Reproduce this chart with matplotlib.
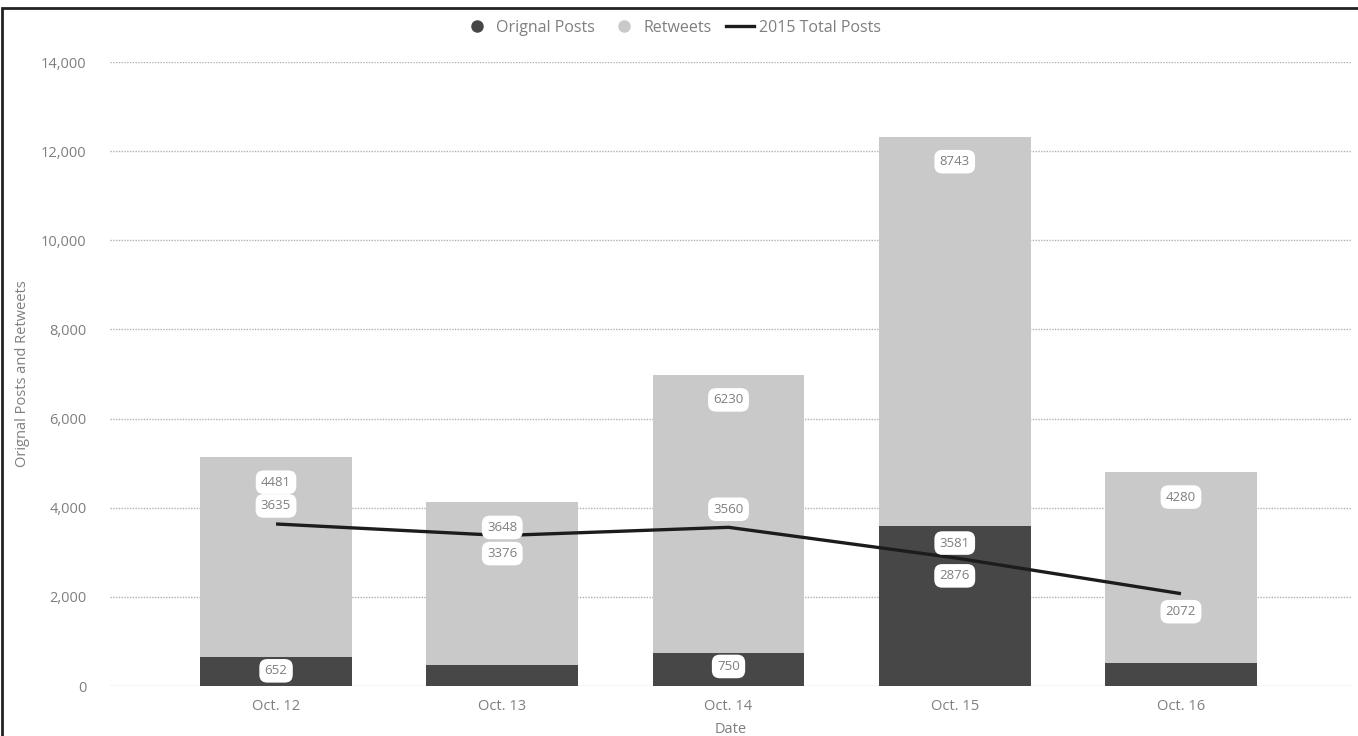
import matplotlib

matplotlib.use("Agg")
import matplotlib.pyplot as plt
from matplotlib.lines import Line2D
from matplotlib.patches import Rectangle
from matplotlib.ticker import FuncFormatter

plt.rcParams["font.family"] = ["Open Sans", "DejaVu Sans"]

# values
dates = ["Oct. 12", "Oct. 13", "Oct. 14", "Oct. 15", "Oct. 16"]
original_posts = [652, 470, 750, 3581, 520]
retweets = [4481, 3648, 6230, 8743, 4280]
total_2015 = [3635, 3376, 3560, 2876, 2072]

# which data labels are visible, and where the line labels sit
show_orig_label = [True, False, True, True, False]
line_label_side = [1, -1, 1, -1, -1]

DARK = "#474747"
LIGHT = "#c9c9c9"
TXT = "#7f7f7f"

fig = plt.figure(figsize=(13.58, 7.36), dpi=100)
ax = fig.add_axes([110 / 1358, 50 / 736, 1242 / 1358, 624 / 736])

x = list(range(len(dates)))
ax.bar(x, original_posts, width=0.67, color=DARK, zorder=2)
ax.bar(x, retweets, width=0.67, bottom=original_posts, color=LIGHT, zorder=2)
ax.plot(x, total_2015, color="#1c1c1c", lw=2.4, zorder=3, solid_capstyle="butt")

box = dict(boxstyle="round,pad=0.4,rounding_size=0.6", fc="white", ec="none")
lbl = dict(ha="center", va="center", fontsize=9.5, color=TXT, bbox=box, zorder=4)
for i in x:
    top = original_posts[i] + retweets[i]
    ax.annotate(str(retweets[i]), (i, top), xytext=(0, -18), textcoords="offset points", **lbl)
    if show_orig_label[i]:
        off = -12 if original_posts[i] > 1000 else -10
        ax.annotate(str(original_posts[i]), (i, original_posts[i]), xytext=(0, off),
                    textcoords="offset points", **lbl)
    ax.annotate(str(total_2015[i]), (i, total_2015[i]), xytext=(0, 13 * line_label_side[i]),
                textcoords="offset points", **lbl)

ax.set_xlim(-0.734, 4.756)
ax.set_ylim(0, 14000)
ax.set_yticks(range(0, 14001, 2000))
ax.yaxis.set_major_formatter(FuncFormatter(lambda v, _: f"{int(v):,}"))
ax.set_xticks(x)
ax.set_xticklabels(dates)
ax.grid(axis="y", color="#b0b0b0", ls=(0, (1, 1)), lw=1, zorder=0)
for s in ax.spines.values():
    s.set_visible(False)
ax.tick_params(length=0, colors=TXT, labelsize=10.5, pad=17)
ax.tick_params(axis="x", pad=9)
ax.set_xlabel("Date", color=TXT, fontsize=10.5, labelpad=6)
ax.set_ylabel("Orignal Posts and Retweets", color=TXT, fontsize=10.5, labelpad=8)

handles = [
    Line2D([], [], marker="o", ls="none", color=DARK, markersize=8),
    Line2D([], [], marker="o", ls="none", color=LIGHT, markersize=8),
    Line2D([], [], color="#1c1c1c", lw=2.4),
]
fig.legend(handles, ["Orignal Posts", "Retweets", "2015 Total Posts"], loc="center",
           bbox_to_anchor=(672 / 1358, 1 - 28 / 736), ncol=3, frameon=False, fontsize=11.5,
           labelcolor=TXT, handlelength=1.8, handletextpad=0.3, columnspacing=0.9)

# outer frame of the pasted chart
fig.patches.append(Rectangle((2 / 1358, -0.1), 1.2, 1.1 - 8 / 736, transform=fig.transFigure,
                             fill=False, ec="#222222", lw=2))

fig.savefig("out.png", dpi=100)
